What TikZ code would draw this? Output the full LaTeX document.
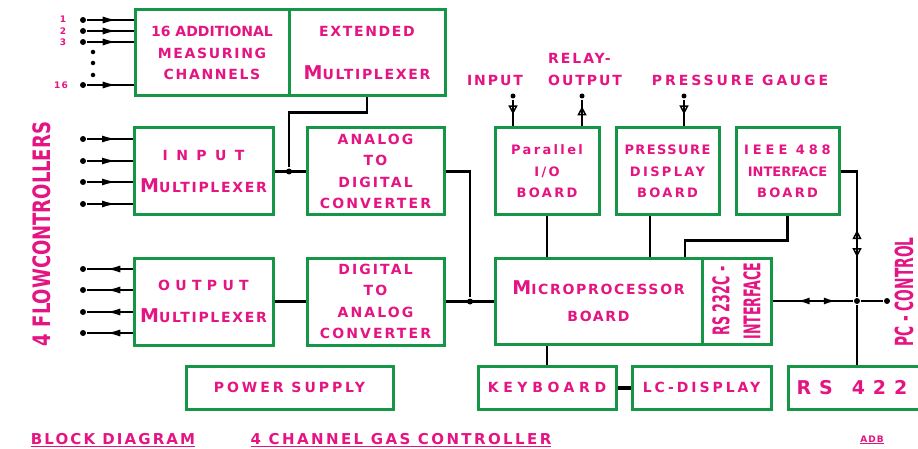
\documentclass[tikz,border=0pt]{standalone}
\usepackage{fontspec}
\setmainfont{DejaVu Sans}[LetterSpace=12]
\newfontfamily\condfont{DejaVu Sans}[FakeStretch=0.55]
\newfontfamily\flowfont{DejaVu Sans}[FakeStretch=0.75]
\usetikzlibrary{arrows.meta, decorations.markings}

\definecolor{boxgreen}{RGB}{20,150,70}
\definecolor{labelpink}{RGB}{228,20,130}
\newcommand{\bigM}{{\fontsize{19}{19}\selectfont M}}
\newcommand{\spread}[2]{{\addfontfeature{LetterSpace=#1}#2}}

\begin{document}
\begin{tikzpicture}[x=1pt, y=-1pt, line width=2.3pt,
    font=\fontsize{14}{21.5}\selectfont\bfseries,
    box/.style={rectangle, draw=boxgreen, line width=3pt, inner sep=1pt, align=center, text=labelpink},
    board/.style={box, minimum width=103, minimum height=87, font=\fontsize{13}{21.5}\selectfont\bfseries\addfontfeature{LetterSpace=18}},
    lbl/.style={text=labelpink, align=center, inner sep=0pt},
    dot/.style={circle, fill, inner sep=0pt, minimum size=6pt},
    fwd/.style={postaction={decorate}, decoration={markings,
        mark=at position #1 with {\arrow{Latex[length=15pt,width=7pt]}}}},
    fwdopen/.style={postaction={decorate}, decoration={markings,
        mark=at position #1 with {\arrow{Triangle[open,length=9pt,width=9pt,line width=1.5pt]}}}}]

\useasboundingbox (0,0) rectangle (918,449);
\clip (0,0) rectangle (918,449);

% multiplexer and converter chain
\node (addch) at (212,53) [box, minimum width=154, minimum height=86] {\spread{0}{16 ADDITIONAL}\\MEASURING\\CHANNELS};
\node (extmux) at (367,53) [box, minimum width=156, minimum height=86] {EXTENDED\\[21pt]\bigM ULTIPLEXER};

\node (inmux) at (203.5,171.5) [box, minimum width=139, minimum height=87] {\spread{60}{INPUT}\\[11pt]\bigM ULTIPLEXER};
\node (adc) at (375.5,171.5) [box, minimum width=137, minimum height=87, font=\fontsize{14}{21.5}\selectfont\bfseries\addfontfeature{LetterSpace=15}] {ANALOG\\TO\\DIGITAL\\CONVERTER};

\node (outmux) at (203.5,301.5) [box, minimum width=139, minimum height=87] {\spread{38}{OUTPUT}\\[11pt]\bigM ULTIPLEXER};
\node (dac) at (375.5,301.5) [box, minimum width=137, minimum height=87, font=\fontsize{14}{21.5}\selectfont\bfseries\addfontfeature{LetterSpace=15}] {DIGITAL\\TO\\ANALOG\\CONVERTER};

% boards round the processor
\node (pio) at (547,171.5) [board, minimum width=104] {Parallel\\I/O\\BOARD};
\node (pdisp) at (667.5,171.5) [board] {\spread{11}{PRESSURE}\\DISPLAY\\BOARD};
\node (ieee) at (787.5,171.5) [board] {\spread{30}{IEEE 488}\\\spread{0}{INTERFACE}\\BOARD};

\node (micro) at (598.5,301) [box, minimum width=207, minimum height=86] {\bigM ICROPROCESSOR\\[6pt]BOARD};
\node (rs232) at (736.5,301) [box, rotate=90, minimum width=86, minimum height=69,
    font=\condfont\fontsize{23}{31}\selectfont\bfseries] {RS 232C -\\INTERFACE};

\node (power) at (289.5,387.5) [box, minimum width=207, minimum height=43, font=\fontsize{14}{14}\selectfont\bfseries\addfontfeature{LetterSpace=21}] {POWER SUPPLY};
\node (keyb) at (547,387.5) [box, minimum width=138, minimum height=43, font=\fontsize{14}{14}\selectfont\bfseries\addfontfeature{LetterSpace=33}] {KEYBOARD};
\node (lcd) at (701.5,387.5) [box, minimum width=139, minimum height=43, font=\fontsize{14}{14}\selectfont\bfseries\addfontfeature{LetterSpace=21}] {LC-DISPLAY};
\node (rs422) at (787,387.5) [box, anchor=west, minimum width=150, minimum height=43, text width=134, align=left,
    font=\fontsize{19}{19}\selectfont\bfseries\addfontfeature{LetterSpace=42}] {RS\quad 422};

% 16 measuring channels
\node (n1) at (63,19) [lbl, font=\fontsize{9}{9}\selectfont\bfseries] {1};
\node (n2) at (63,31) [lbl, font=\fontsize{9}{9}\selectfont\bfseries] {2};
\node (n3) at (63,42) [lbl, font=\fontsize{9}{9}\selectfont\bfseries] {3};
\node (n16) at (61,85) [lbl, font=\fontsize{9}{9}\selectfont\bfseries] {16};
\node (c1) at (83,20) [dot] {} edge[fwd=0.66] (addch.west |- c1);
\node (c2) at (83,31) [dot] {} edge[fwd=0.66] (addch.west |- c2);
\node (c3) at (83,42) [dot] {} edge[fwd=0.66] (addch.west |- c3);
\node (c16) at (83,85) [dot] {} edge[fwd=0.66] (addch.west |- c16);
	\node (v1) at (93,52) [dot, minimum size=4.5pt] {};
	\node (v2) at (93,63) [dot, minimum size=4.5pt] {};
	\node (v3) at (93,75) [dot, minimum size=4.5pt] {};

% flow controllers in and out
\node (f1) at (83,139) [dot] {} edge[fwd=0.66] (inmux.west |- f1);
\node (f2) at (83,161) [dot] {} edge[fwd=0.66] (inmux.west |- f2);
\node (f3) at (83,182) [dot] {} edge[fwd=0.66] (inmux.west |- f3);
\node (f4) at (83,204) [dot] {} edge[fwd=0.66] (inmux.west |- f4);
\node (g1) at (83,269) [dot] {};
\node (g2) at (83,290) [dot] {};
\node (g3) at (83,312) [dot] {};
\node (g4) at (83,333) [dot] {};
	\draw[fwd=0.6] (outmux.west |- g1) -- (g1);
	\draw[fwd=0.6] (outmux.west |- g2) -- (g2);
	\draw[fwd=0.6] (outmux.west |- g3) -- (g3);
	\draw[fwd=0.6] (outmux.west |- g4) -- (g4);
\node (flow) at (42,234) [lbl, rotate=90, font=\flowfont\fontsize{24}{24}\selectfont\bfseries] {4 FLOWCONTROLLERS};

% signal path
\node (jin) at (289,171.5) [dot] {};
\draw (extmux.south) -- ++(0,15) -| (jin);
\draw (inmux.east) -- (adc.west);
\node (jout) at (470,301.5) [dot] {};
\draw (adc.east) -| (jout);
\draw (outmux.east) -- (dac.west);
\draw (dac.east) -- (micro.west |- dac.east);

\draw (pio.south) -- (pio.south |- micro.north);
\draw ([xshift=-17.5pt]pdisp.south) -- ([xshift=-17.5pt]pdisp.south |- micro.north);
\draw (ieee.south) -- ++(0,24) -| ([xshift=86.5pt]micro.north);
\draw (keyb.north) -- (keyb.north |- micro.south);
\draw[line width=4pt] (keyb.east) -- (lcd.west);

% outside world
\node (linput) at (495,80) [lbl, font=\fontsize{14}{14}\selectfont\bfseries\addfontfeature{LetterSpace=14}] {INPUT};
\node (lrelay) at (547,69) [lbl, anchor=west, align=left, font=\fontsize{14}{22}\selectfont\bfseries\addfontfeature{LetterSpace=14}] {RELAY-\\OUTPUT};
\node (lgauge) at (740,80) [lbl, font=\fontsize{14}{14}\selectfont\bfseries\addfontfeature{LetterSpace=21}] {PRESSURE GAUGE};
\node (tin) at (513,96) [dot, minimum size=5pt] {} edge[fwdopen=0.55] (pio.north -| tin);
\node (tout) at (582,96) [dot, minimum size=5pt] {};
\draw[fwdopen=0.75] (pio.north -| tout) -- (tout);
\node (tgauge) at (684,96) [dot, minimum size=5pt] {} edge[fwdopen=0.55] (pdisp.north -| tgauge);

% serial links
\node (jbus) at (857,301) [dot] {};
\node (pcend) at (887,301) [dot] {};
\draw[postaction={decorate}, decoration={markings,
    mark=at position 0.53 with {\arrowreversed{Triangle[open,length=9pt,width=9pt,line width=1.5pt]}},
    mark=at position 0.72 with {\arrow{Triangle[open,length=9pt,width=9pt,line width=1.5pt]}}}]
    (ieee.east) -| (jbus);
\draw[postaction={decorate}, decoration={markings,
    mark=at position 0.30 with {\arrowreversed{Latex[length=13pt,width=7pt]}},
    mark=at position 0.80 with {\arrow{Latex[length=13pt,width=7pt]}}}]
    (rs232.south) -- (jbus);
\draw (jbus) -- (pcend);
\draw (jbus) -- (jbus |- rs422.north);
\node (pc) at (904,292) [lbl, rotate=90, font=\condfont\fontsize{25}{25}\selectfont\bfseries] {PC - CONTROL};

% title line
\node (title) at (113,440) [lbl, font=\fontsize{15}{15}\selectfont\bfseries\addfontfeature{LetterSpace=14}] {\underline{BLOCK DIAGRAM}};
\node (subtitle) at (401,440) [lbl, font=\fontsize{15}{15}\selectfont\bfseries\addfontfeature{LetterSpace=16}] {\underline{4 CHANNEL GAS CONTROLLER}};
\node (adb) at (872,440) [lbl, font=\fontsize{9}{9}\selectfont\bfseries] {\underline{ADB}};

\end{tikzpicture}
\end{document}
